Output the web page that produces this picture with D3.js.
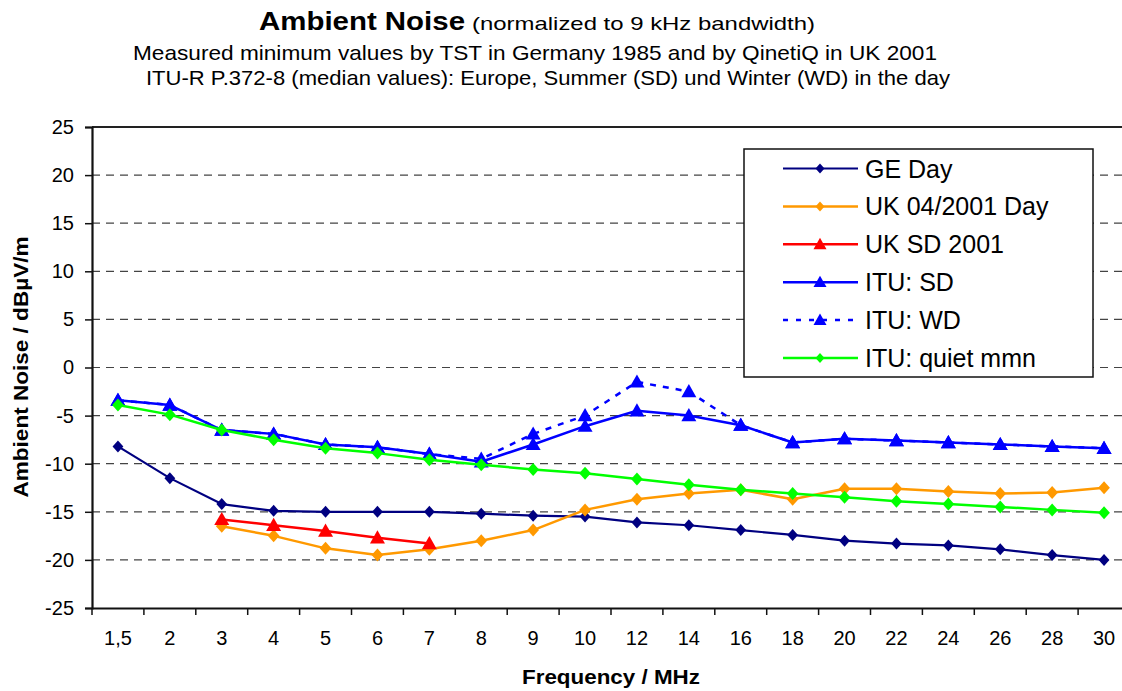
<!DOCTYPE html>
<html>
<head>
<meta charset="utf-8">
<script src="https://cdn.jsdelivr.net/npm/d3@7"></script>
<style>
  html, body { margin: 0; padding: 0; background: #fff; }
  svg { display: block; font-family: Arial, "Liberation Sans", sans-serif; }
</style>
</head>
<body>
<svg id="chart" width="1122" height="691"></svg>
<script>
// ---------- data ----------
const categories = ["1,5","2","3","4","5","6","7","8","9","10","12","14","16","18","20","22","24","26","28","30"];
const geDay      = [-8.2,-11.5,-14.2,-14.9,-15.0,-15.0,-15.0,-15.2,-15.4,-15.5,-16.1,-16.4,-16.9,-17.4,-18.0,-18.3,-18.5,-18.9,-19.5,-20.0];
const uk2001Day  = [null,null,-16.5,-17.5,-18.8,-19.5,-18.9,-18.0,-16.9,-14.8,-13.7,-13.1,-12.7,-13.7,-12.6,-12.6,-12.9,-13.1,-13.0,-12.5];
const ukSD2001   = [null,null,-15.8,-16.4,-17.0,-17.7,-18.3,null,null,null,null,null,null,null,null,null,null,null,null,null];
const ituSD      = [-3.4,-3.9,-6.5,-6.9,-8.0,-8.3,-9.0,-9.8,-8.0,-6.1,-4.5,-5.0,-6.0,-7.8,-7.4,-7.6,-7.8,-8.0,-8.2,-8.4];
const ituWD      = [-3.4,-3.9,-6.5,-6.9,-8.0,-8.3,-9.0,-9.5,-6.9,-5.0,-1.5,-2.5,-6.0,-7.8,-7.4,-7.6,-7.8,-8.0,-8.2,-8.4];
const ituQuiet   = [-3.9,-4.9,-6.5,-7.5,-8.4,-8.9,-9.6,-10.1,-10.6,-11.0,-11.6,-12.2,-12.7,-13.1,-13.5,-13.9,-14.2,-14.5,-14.8,-15.1];
const yTicks     = [-25,-20,-15,-10,-5,0,5,10,15,20,25];
const seriesNames = ["GE Day","UK 04/2001 Day","UK SD 2001","ITU: SD","ITU: WD","ITU: quiet mmn"];

const series = [
  {name: seriesNames[0], values: geDay,     color: "#000080", marker: "diamond",  width: 2.2, dash: null, ms: 6},
  {name: seriesNames[1], values: uk2001Day, color: "#FF9900", marker: "diamond",  width: 2.5, dash: null, ms: 6.5},
  {name: seriesNames[2], values: ukSD2001,  color: "#FF0000", marker: "triangle", width: 2.5, dash: null, ms: 7.5},
  {name: seriesNames[3], values: ituSD,     color: "#0000FF", marker: "triangle", width: 2.5, dash: null, ms: 7.5},
  {name: seriesNames[4], values: ituWD,     color: "#0000FF", marker: "triangle", width: 2.5, dash: "6,7", ms: 7.5},
  {name: seriesNames[5], values: ituQuiet,  color: "#00FF00", marker: "diamond",  width: 2.5, dash: null, ms: 6.5}
];

// ---------- layout ----------
const svg = d3.select("#chart");
const plot = {left: 92, right: 1130, top: 127, bottom: 608};

const x = d3.scaleBand().domain(categories).range([plot.left, plot.right]).paddingInner(0).paddingOuter(0);
const xc = c => x(c) + x.bandwidth() / 2;
const y = d3.scaleLinear().domain([-25, 25]).range([plot.bottom, plot.top]);

function markerPath(type, s) {
  if (type === "diamond") return `M0,${-s} L${s*0.9},0 L0,${s} L${-s*0.9},0 Z`;
  return `M0,${-s} L${s},${s*0.75} L${-s},${s*0.75} Z`;
}

// ---------- titles ----------
svg.append("text").attr("x", 259).attr("y", 30)
  .attr("font-weight", "bold").attr("font-size", 26)
  .attr("textLength", 206).attr("lengthAdjust", "spacingAndGlyphs")
  .text("Ambient Noise");
svg.append("text").attr("x", 472).attr("y", 30)
  .attr("font-size", 19)
  .attr("textLength", 343).attr("lengthAdjust", "spacingAndGlyphs")
  .text("(normalized to 9 kHz bandwidth)");
svg.append("text").attr("x", 133).attr("y", 60)
  .attr("font-size", 21)
  .attr("textLength", 804).attr("lengthAdjust", "spacingAndGlyphs")
  .text("Measured minimum values by TST in Germany 1985 and by QinetiQ in UK 2001");
svg.append("text").attr("x", 146).attr("y", 84.5)
  .attr("font-size", 21)
  .attr("textLength", 804).attr("lengthAdjust", "spacingAndGlyphs")
  .text("ITU-R P.372-8 (median values): Europe, Summer (SD) und Winter (WD) in the day");

// ---------- grid ----------
svg.append("g").selectAll("line")
  .data(yTicks.filter(v => v > -25 && v < 25))
  .join("line")
  .attr("x1", plot.left).attr("x2", plot.right)
  .attr("y1", d => y(d)).attr("y2", d => y(d))
  .attr("stroke", "#444").attr("stroke-width", 1.2)
  .attr("stroke-dasharray", "8,6");

// ---------- frame ----------
svg.append("line").attr("x1", plot.left).attr("x2", plot.right)
  .attr("y1", y(25)).attr("y2", y(25)).attr("stroke", "#222").attr("stroke-width", 2);

// ---------- axes ----------
const yAxis = svg.append("g").attr("transform", `translate(${plot.left},0)`)
  .call(d3.axisLeft(y).tickValues(yTicks).tickSize(7).tickPadding(11).tickFormat(d => String(d)));
yAxis.select(".domain").attr("stroke", "#111").attr("stroke-width", 2.2);
yAxis.selectAll(".tick line").attr("stroke", "#111").attr("stroke-width", 1.5);
yAxis.selectAll("text").attr("font-size", 20).attr("fill", "#000")
  .attr("font-family", "Arial, 'Liberation Sans', sans-serif");

const xAxis = svg.append("g").attr("transform", `translate(0,${plot.bottom})`)
  .call(d3.axisBottom(x).tickSize(0).tickPadding(23));
xAxis.select(".domain").attr("stroke", "#111").attr("stroke-width", 2.2);
xAxis.selectAll("text").attr("font-size", 20).attr("fill", "#000")
  .attr("font-family", "Arial, 'Liberation Sans', sans-serif");
// tick marks at category boundaries
const edges = categories.map(c => x(c)).concat([x(categories[categories.length - 1]) + x.bandwidth()]);
svg.append("g").selectAll("line").data(edges).join("line")
  .attr("x1", d => d).attr("x2", d => d)
  .attr("y1", plot.bottom).attr("y2", plot.bottom + 7)
  .attr("stroke", "#111").attr("stroke-width", 1.5);

// axis titles
svg.append("text").attr("x", 611).attr("y", 683.5)
  .attr("text-anchor", "middle").attr("font-weight", "bold").attr("font-size", 21)
  .attr("textLength", 178).attr("lengthAdjust", "spacingAndGlyphs")
  .text("Frequency / MHz");
svg.append("text")
  .attr("transform", "translate(28,367) rotate(-90)")
  .attr("text-anchor", "middle").attr("font-weight", "bold").attr("font-size", 21)
  .attr("textLength", 261).attr("lengthAdjust", "spacingAndGlyphs")
  .text("Ambient Noise / dBµV/m");

// ---------- series ----------
const line = d3.line()
  .defined(d => d.v !== null)
  .x(d => xc(d.c)).y(d => y(d.v));

series.forEach(s => {
  const pts = s.values.map((v, i) => ({c: categories[i], v}));
  const g = svg.append("g");
  g.append("path").datum(pts)
    .attr("d", line).attr("fill", "none")
    .attr("stroke", s.color).attr("stroke-width", s.width)
    .attr("stroke-linejoin", "round")
    .attr("stroke-dasharray", s.dash);
  g.selectAll("path.m").data(pts.filter(p => p.v !== null)).join("path")
    .attr("class", "m")
    .attr("transform", p => `translate(${xc(p.c)},${y(p.v)})`)
    .attr("d", markerPath(s.marker, s.ms))
    .attr("fill", s.color);
});

// ---------- legend ----------
const lg = svg.append("g");
lg.append("rect").attr("x", 744).attr("y", 149).attr("width", 349).attr("height", 228)
  .attr("fill", "#fff").attr("stroke", "#111").attr("stroke-width", 1.5);
series.forEach((s, i) => {
  const cy = 168.5 + i * 37.9;
  lg.append("line").attr("x1", 783).attr("x2", 858).attr("y1", cy).attr("y2", cy)
    .attr("stroke", s.color).attr("stroke-width", s.width)
    .attr("stroke-dasharray", s.dash ? "5,8" : null);
  lg.append("path").attr("transform", `translate(820,${cy})`)
    .attr("d", markerPath(s.marker, s.marker === "diamond" ? 5 : 6.5)).attr("fill", s.color);
  lg.append("text").attr("x", 865).attr("y", cy + 9).attr("font-size", 25)
    .text(s.name);
});
</script>
</body>
</html>
